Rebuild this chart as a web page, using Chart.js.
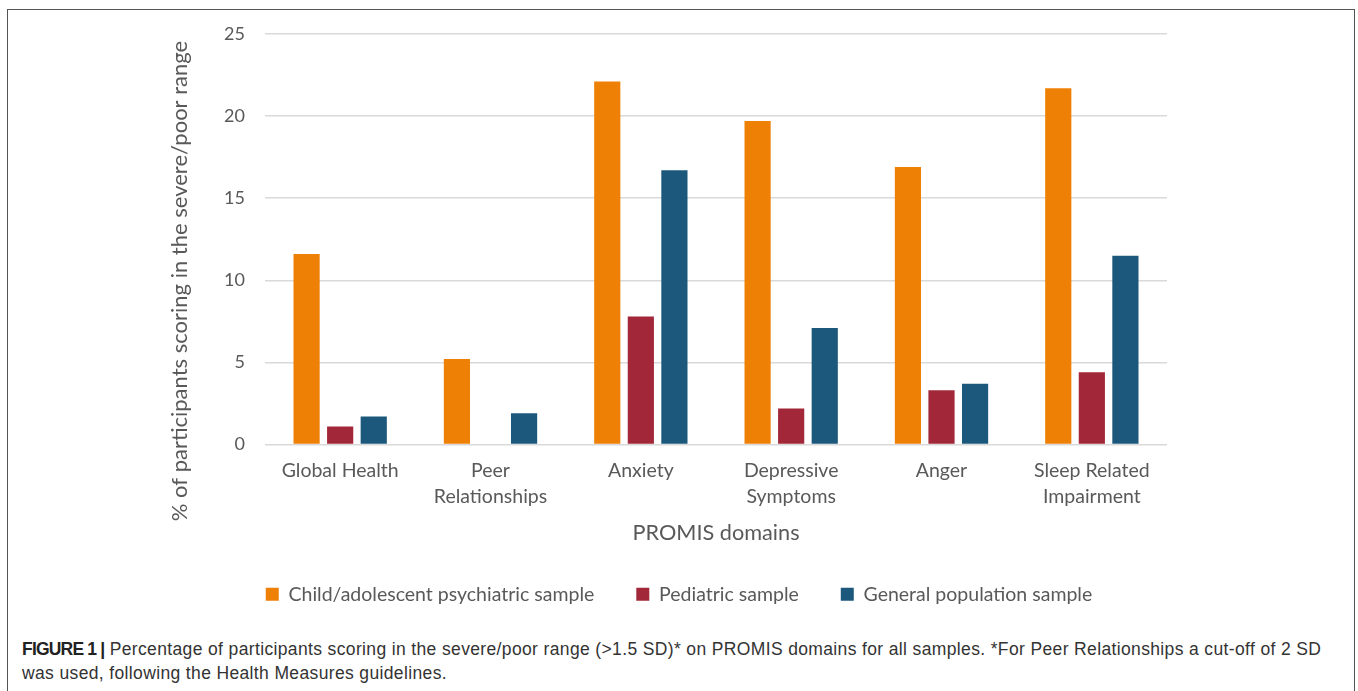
<!DOCTYPE html>
<html>
<head>
<meta charset="utf-8">
<script src="https://cdn.jsdelivr.net/npm/chart.js@4"></script>
<style>
  html, body { margin: 0; padding: 0; background: #fff; width: 1358px; height: 691px; overflow: hidden; }
  #frame { position: absolute; left: 7px; top: 9px; width: 1348px; height: 700px; border: 1.5px solid #555; border-bottom: none; box-sizing: border-box; }
  #wrap { position: absolute; left: 0; top: 0; width: 1358px; height: 614px; }
  #caption { position: absolute; left: 22px; top: 637px; width: 1336px; white-space: nowrap; font-family: "Liberation Sans", Arial, sans-serif; font-size: 17.5px; letter-spacing: 0.36px; line-height: 24px; color: #333; }
  #caption b { color: #222; font-size: 17.5px; letter-spacing: -0.8px; }
</style>
</head>
<body>
<div id="frame"></div>
<div id="wrap"><canvas id="c"></canvas></div>
<div id="caption"><b>FIGURE 1 |</b> Percentage of participants scoring in the severe/poor range (&gt;1.5 SD)* on PROMIS domains for all samples. *For Peer Relationships a cut-off of 2 SD<br>was used, following the Health Measures guidelines.</div>
<script>
const categories = [["Global Health"], ["Peer", "Relationships"], ["Anxiety"], ["Depressive", "Symptoms"], ["Anger"], ["Sleep Related", "Impairment"]];
const seriesNames = ["Child/adolescent psychiatric sample", "Pediatric sample", "General population sample"];
const psychiatric = [11.6, 5.2, 22.1, 19.7, 16.9, 21.7];
const pediatric = [1.1, 0, 7.8, 2.2, 3.3, 4.4];
const general = [1.7, 1.9, 16.7, 7.1, 3.7, 11.5];
const yTicks = [0, 5, 10, 15, 20, 25];
const yTitle = "% of participants scoring in the severe/poor range";
const xTitle = "PROMIS domains";
const colors = ["#EF8006", "#A12739", "#1C587B"];

const textColor = "#595959";
const gridColor = "#D9D9D9";

// draws the y-axis title, which in the reference sits lower than the axis centre
const yTitlePlugin = {
  id: "yTitle",
  afterDraw(chart) {
    const ctx = chart.ctx;
    ctx.save();
    ctx.translate(180, 281);
    ctx.rotate(-Math.PI / 2);
    ctx.font = "22px Lato";
    ctx.fillStyle = textColor;
    ctx.textAlign = "center";
    ctx.textBaseline = "middle";
    ctx.fillText(yTitle, 0, 0);
    ctx.restore();
  }
};

new Chart(document.getElementById("c"), {
  type: "bar",
  data: {
    labels: categories,
    datasets: [psychiatric, pediatric, general].map((d, i) => ({
      label: seriesNames[i],
      data: d,
      backgroundColor: colors[i],
      categoryPercentage: 0.67,
      barPercentage: 0.78,
      yAxisID: "y"
    }))
  },
  plugins: [yTitlePlugin],
  options: {
    responsive: true,
    maintainAspectRatio: false,
    animation: false,
    layout: { padding: { left: 0, right: 0, top: 34, bottom: 0 } },
    plugins: {
      tooltip: { enabled: false },
      legend: {
        position: "bottom",
        labels: {
          color: textColor,
          font: { family: "Lato", size: 19.5 },
          boxWidth: 13,
          boxHeight: 13,
          padding: 42
        }
      }
    },
    scales: {
      x: {
        grid: { display: false },
        border: { display: false },
        ticks: {
          color: textColor,
          font: { family: "Lato", size: 19.5, lineHeight: 1.34 },
          padding: 5,
          maxRotation: 0
        },
        title: {
          display: true,
          text: xTitle,
          color: textColor,
          font: { family: "Lato", size: 21.7, lineHeight: 1.15 },
          padding: { top: 0, bottom: -2.5 }
        },
        afterFit: (s) => { s.height = 98; }
      },
      y: {
        min: 0,
        max: 25,
        afterBuildTicks: (s) => { s.ticks = yTicks.map(v => ({ value: v })); },
        grid: { color: gridColor, lineWidth: 1.5, drawTicks: false },
        border: { display: false },
        ticks: {
          color: textColor,
          font: { family: "Lato", size: 18 },
          padding: 20
        },
        title: { display: false },
        afterFit: (s) => { s.width = 265; }
      },
      yRight: {
        position: "right",
        display: true,
        grid: { display: false, drawTicks: false },
        border: { display: false },
        ticks: { display: false },
        afterFit: (s) => { s.width = 191; }
      }
    }
  }
});
</script>
</body>
</html>
